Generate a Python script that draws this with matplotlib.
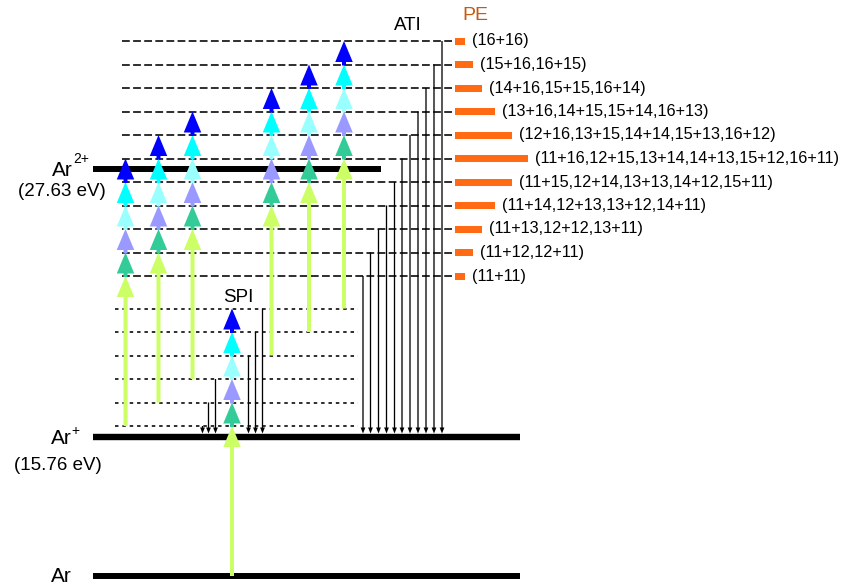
import matplotlib
matplotlib.use('Agg')
import matplotlib.pyplot as plt
from matplotlib.patches import FancyArrow, Rectangle

plt.rcParams['font.family'] = ['Liberation Sans', 'DejaVu Sans']
plt.rcParams['lines.scale_dashes'] = False

# ---------------- data (schematic energy units) ----------------
harmonic_orders = [11, 12, 13, 14, 15, 16]
harmonic_colors = ['#ccff66', '#33cc99', '#9999ff', '#99ffff', '#00ffff', '#0000ff']
photon_energy = [150, 173.5, 197, 220.5, 244, 267.5]

state_names = ['Ar', 'Ar', 'Ar']
state_charges = ['', '+', '2+']
state_ev = ['', '(15.76 eV)', '(27.63 eV)']
state_energy = [0, 139, 407]

pe_labels = ['(11+11)', '(11+12,12+11)', '(11+13,12+12,13+11)',
             '(11+14,12+13,13+12,14+11)', '(11+15,12+14,13+13,14+12,15+11)',
             '(11+16,12+15,13+14,14+13,15+12,16+11)',
             '(12+16,13+15,14+14,15+13,16+12)', '(13+16,14+15,15+14,16+13)',
             '(14+16,15+15,16+14)', '(15+16,16+15)', '(16+16)']
pe_bar = [10, 18, 27, 40, 57, 73, 57, 40, 27, 18, 10]

# ---------------- layout ----------------
W, H = 845, 585
fig = plt.figure(figsize=(W / 100, H / 100), dpi=100)
ax = fig.add_axes([0, 0, 1, 1])
ax.set_xlim(0, W)
ax.set_ylim(-9, 576)
ax.axis('off')

col_x = [125.5, 158.5, 192.5, 271.5, 309, 344]
spi_x = 232
spi_drop_x = [202.5, 208.5, 215.5, 248.5, 255.5, 262.5]
ati_drop_x = [363, 370.5, 378.5, 386.5, 394.5, 402, 410, 418, 426, 434, 442]

E_Ar, E_Arp, E_Ar2p = state_energy
line_top = E_Arp + 3.5

# ATI levels (sum of two photon energies)
n = len(photon_energy)
ati_levels = []
for s in range(2 * n - 1):
    i = max(0, s - (n - 1))
    ati_levels.append(photon_energy[i] + photon_energy[s - i])

# state lines
ax.plot([93, 520], [E_Ar, E_Ar], color='k', lw=4.3, solid_capstyle='butt', zorder=2)
ax.plot([93, 520], [E_Arp, E_Arp], color='k', lw=4.6, solid_capstyle='butt', zorder=2)
ax.plot([93, 381], [E_Ar2p, E_Ar2p], color='k', lw=4.3, solid_capstyle='butt', zorder=2)

# SPI dotted levels
for e in photon_energy:
    ax.plot([115, 358], [e, e], color='k', lw=1.15, dashes=(2.5, 2.8), zorder=1)

# ATI dashed levels
for e in ati_levels:
    ax.plot([122, 452], [e, e], color='k', lw=1.15, dashes=(5.6, 2.4), zorder=1)

def up_arrow(x, y0, y1, c):
    ax.add_patch(FancyArrow(x, y0, 0, y1 - y0, width=4, head_width=17.5,
                            head_length=21, length_includes_head=True,
                            color=c, lw=0, zorder=4))

def down_arrow(x, y0, y1):
    ax.add_patch(FancyArrow(x, y0, 0, y1 - y0, width=1.3, head_width=4.8,
                            head_length=6, length_includes_head=True,
                            color='k', lw=0, zorder=3))

def stacked_arrows(x, base):
    # all harmonics start at the same base; draw each from the previous tip
    prev = base
    for k in range(n):
        tip = base + photon_energy[k]
        up_arrow(x, prev, tip, harmonic_colors[k])
        prev = tip - 1

# SPI column: Ar -> Ar+ continuum
stacked_arrows(spi_x, E_Ar)

# SPI electrons
for x, e in zip(spi_drop_x, photon_energy):
    down_arrow(x, e, line_top)

# sequential double ionisation columns
for i, x in enumerate(col_x):
    stacked_arrows(x, photon_energy[i])

# ATI electrons
for x, e in zip(ati_drop_x, ati_levels):
    down_arrow(x, e, line_top)

# PE bars and labels
for e, w, lab in zip(ati_levels, pe_bar, pe_labels):
    ax.add_patch(Rectangle((455, e - 3.5), w, 7, color='#ff6a13', lw=0, zorder=3))
    ax.text(455 + w + 7, e, lab, fontsize=11.7, va='center', ha='left')

# state labels
lab_x = [61, 61, 62]
lab_dy = [-1, -1, -2]
sup_pos = [(0, 0), (75.5, 145), (81, 417)]
ev_pos = [(0, 0), (57.5, 111), (62, 385)]
for k in range(3):
    ax.text(lab_x[k], state_energy[k] + lab_dy[k], state_names[k], fontsize=15,
            ha='center', va='center')
    if state_charges[k]:
        ax.text(sup_pos[k][0], sup_pos[k][1], state_charges[k], fontsize=10,
                ha='center', va='center')
    if state_ev[k]:
        ax.text(ev_pos[k][0], ev_pos[k][1], state_ev[k], fontsize=13.5,
                ha='center', va='center')

ax.text(408, 551, 'ATI', fontsize=13.5, ha='center', va='center')
ax.text(238, 278, 'SPI', fontsize=13.5, ha='center', va='center')
ax.text(475, 560, 'PE', fontsize=14, ha='center', va='center', color='#c55a11')

fig.savefig('out.png', dpi=100)
